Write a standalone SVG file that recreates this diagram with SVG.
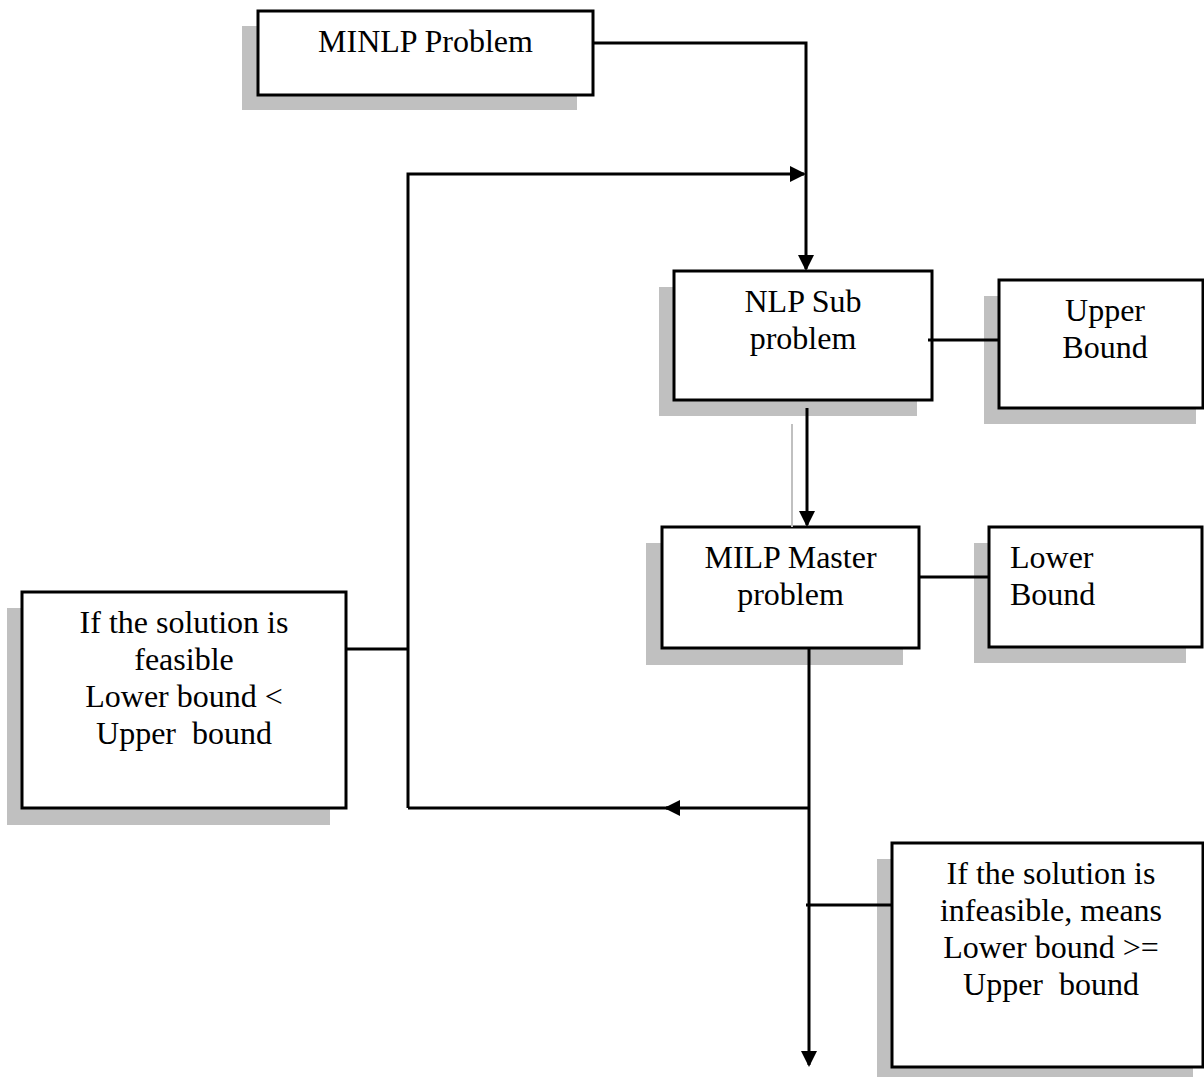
<svg xmlns="http://www.w3.org/2000/svg" width="1204" height="1077" viewBox="0 0 1204 1077">
  <style>
    .shadow { fill: #c0c0c0; }
    .box { fill: #ffffff; stroke: #000000; stroke-width: 3; }
    .label { font-family: "Liberation Serif", "Times New Roman", serif; font-size: 32px; fill: #000000; }
    .mid { text-anchor: middle; }
    .wire { fill: none; stroke: #000000; stroke-width: 3; }
    .ghost { fill: none; stroke: #c0c0c0; stroke-width: 2; }
  </style>
  <defs>
    <marker id="arrow" viewBox="0 0 16 16" refX="14" refY="8" markerWidth="16" markerHeight="16" markerUnits="userSpaceOnUse" orient="auto">
      <path d="M0,0 L16,8 L0,16 z" fill="#000000"/>
    </marker>
  </defs>

  <rect width="1204" height="1077" fill="#ffffff"/>

  <g id="minlp">
    <rect class="shadow" x="242" y="26" width="335" height="84"/>
    <rect class="box" x="258" y="11" width="335" height="84"/>
    <text class="label mid" x="425.5" y="52">MINLP Problem</text>
  </g>

  <g id="nlp-sub">
    <rect class="shadow" x="659" y="287" width="258" height="129"/>
    <rect class="box" x="674" y="271" width="258" height="129"/>
    <text class="label mid" x="803" y="312">NLP Sub</text>
    <text class="label mid" x="803" y="349">problem</text>
  </g>

  <g id="upper-bound">
    <rect class="shadow" x="984" y="296" width="212" height="128"/>
    <rect class="box" x="999" y="280" width="204" height="128"/>
    <text class="label mid" x="1105" y="321">Upper</text>
    <text class="label mid" x="1105" y="358">Bound</text>
  </g>

  <g id="milp-master">
    <rect class="shadow" x="646" y="543" width="257" height="122"/>
    <rect class="box" x="662" y="527" width="257" height="121"/>
    <text class="label mid" x="790.5" y="568">MILP Master</text>
    <text class="label mid" x="790.5" y="605">problem</text>
  </g>

  <g id="lower-bound">
    <rect class="shadow" x="974" y="543" width="212" height="120"/>
    <rect class="box" x="989" y="527" width="213" height="120"/>
    <text class="label" x="1010" y="568">Lower</text>
    <text class="label" x="1010" y="605">Bound</text>
  </g>

  <g id="feasible">
    <rect class="shadow" x="7" y="608" width="323" height="217"/>
    <rect class="box" x="22" y="592" width="324" height="216"/>
    <text class="label mid" x="184" y="633">If the solution is</text>
    <text class="label mid" x="184" y="670">feasible</text>
    <text class="label mid" x="184" y="707">Lower bound &lt;</text>
    <text class="label mid" x="184" y="744" xml:space="preserve">Upper  bound</text>
  </g>

  <g id="infeasible">
    <rect class="shadow" x="877" y="859" width="316" height="220"/>
    <rect class="box" x="892" y="843" width="311" height="224"/>
    <text class="label mid" x="1051" y="884">If the solution is</text>
    <text class="label mid" x="1051" y="921">infeasible, means</text>
    <text class="label mid" x="1051" y="958">Lower bound &gt;=</text>
    <text class="label mid" x="1051" y="995" xml:space="preserve">Upper  bound</text>
  </g>

  <!-- connectors, drawn over the box shadows -->
  <g id="connectors">
    <!-- MINLP problem feeds the NLP sub problem -->
    <path class="wire" d="M593,43 H806 V269" marker-end="url(#arrow)"/>
    <!-- feedback loop back to the top -->
    <path class="wire" d="M408,808 V174 H804" marker-end="url(#arrow)"/>
    <!-- NLP to MILP -->
    <line class="ghost" x1="792" y1="424" x2="792" y2="527"/>
    <path class="wire" d="M807,408 V525" marker-end="url(#arrow)"/>
    <!-- side links to bounds -->
    <line class="wire" x1="928" y1="340" x2="999" y2="340"/>
    <line class="wire" x1="919" y1="577" x2="989" y2="577"/>
    <!-- MILP output down the page -->
    <path class="wire" d="M809,648 V1065" marker-end="url(#arrow)"/>
    <!-- branch back to the left with a mid arrow -->
    <path class="wire" d="M809,808 H666" marker-end="url(#arrow)"/>
    <line class="wire" x1="678" y1="808" x2="408" y2="808"/>
    <!-- condition boxes -->
    <line class="wire" x1="346" y1="649" x2="408" y2="649"/>
    <line class="wire" x1="806" y1="905" x2="892" y2="905"/>
  </g>
</svg>
